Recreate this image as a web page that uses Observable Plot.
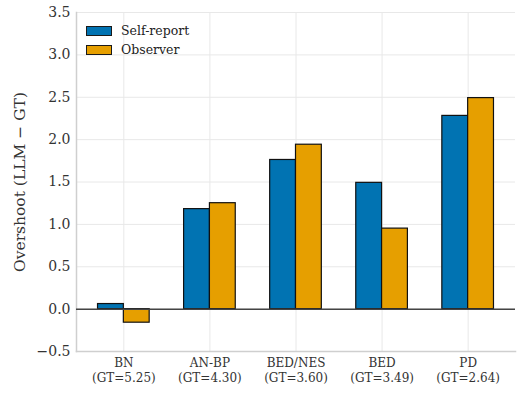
<!DOCTYPE html>
<html>
<head>
<meta charset="utf-8">
<script src="https://cdn.jsdelivr.net/npm/d3@7"></script>
<script src="https://cdn.jsdelivr.net/npm/@observablehq/plot@0.6"></script>
<style>
  body { margin: 0; background: #fff; }
  #chart { position: relative; width: 523px; height: 420px; font-family: "DejaVu Serif", serif; }
  .legend { position: absolute; left: 86px; top: 21px; font-family: "DejaVu Serif", serif; font-size: 12.5px; color: #222; }
  .legend .row { display: flex; align-items: center; height: 19px; }
  .legend .sw { width: 26px; height: 10px; border: 1px solid #1a1a1a; box-sizing: border-box; margin-right: 9px; }
</style>
</head>
<body>
<div id="chart"></div>
<script>
// Mean overshoot of LLM ratings over ground truth, per group
const groups = ["BN", "AN-BP", "BED/NES", "BED", "PD"];
const groundTruth = ["5.25", "4.30", "3.60", "3.49", "2.64"];
const series = ["Self-report", "Observer"];
const selfReport = [0.06, 1.18, 1.76, 1.49, 2.28];
const observer = [-0.16, 1.25, 1.94, 0.95, 2.49];
const yTicks = [-0.5, 0, 0.5, 1, 1.5, 2, 2.5, 3, 3.5];
const colors = ["#0173B2", "#E69F00"];
const yLabel = "Overshoot (LLM \u2212 GT)";

const barWidth = 0.3;
const idx = d3.range(groups.length);
const rows = idx.flatMap(i => [
  {series: series[0], value: selfReport[i], x1: i - barWidth, x2: i},
  {series: series[1], value: observer[i], x1: i, x2: i + barWidth}
]);

const chart = Plot.plot({
  width: 523,
  height: 420,
  marginLeft: 76,
  marginRight: 8,
  marginTop: 12,
  marginBottom: 69,
  style: {fontFamily: "DejaVu Serif, serif", fontSize: "12px", color: "#333", background: "white"},
  x: {type: "linear", domain: [-0.55, groups.length - 1 + 0.55]},
  y: {domain: [-0.5, 3.5]},
  color: {domain: series, range: colors},
  marks: [
    Plot.gridY(yTicks, {stroke: "#e8e8e8", strokeOpacity: 1, strokeWidth: 1}),
    Plot.gridX(idx, {stroke: "#e8e8e8", strokeOpacity: 1, strokeWidth: 1}),
    Plot.frame({anchor: "left", stroke: "#cfcfcf", strokeWidth: 1.5}),
    Plot.frame({anchor: "bottom", stroke: "#cfcfcf", strokeWidth: 1.5}),
    Plot.axisY(yTicks, {
      tickSize: 0, tickPadding: 6, fontSize: 14, label: null,
      tickFormat: d3.format(".1f")
    }),
    Plot.axisX(idx, {
      tickSize: 0, tickPadding: 5, fontSize: 12, label: null, lineHeight: 1.25,
      tickFormat: i => `${groups[i]}\n(GT=${groundTruth[i]})`
    }),
    Plot.text([yLabel], {
      frameAnchor: "left", textAnchor: "middle", rotate: -90, dx: -56,
      fontSize: 15.5, fill: "#333"
    }),
    Plot.rectY(rows, {
      x1: "x1", x2: "x2", y1: 0, y2: "value",
      fill: "series", stroke: "#111", strokeWidth: 1.2
    }),
    Plot.ruleY([0], {stroke: "#444", strokeWidth: 1.5})
  ]
});

const root = document.getElementById("chart");
root.appendChild(chart);

// Legend in the upper-left corner of the plot area
const legend = document.createElement("div");
legend.className = "legend";
series.forEach((s, k) => {
  const row = document.createElement("div");
  row.className = "row";
  const sw = document.createElement("span");
  sw.className = "sw";
  sw.style.background = colors[k];
  const label = document.createElement("span");
  label.textContent = s;
  row.appendChild(sw);
  row.appendChild(label);
  legend.appendChild(row);
});
root.appendChild(legend);
</script>
</body>
</html>
